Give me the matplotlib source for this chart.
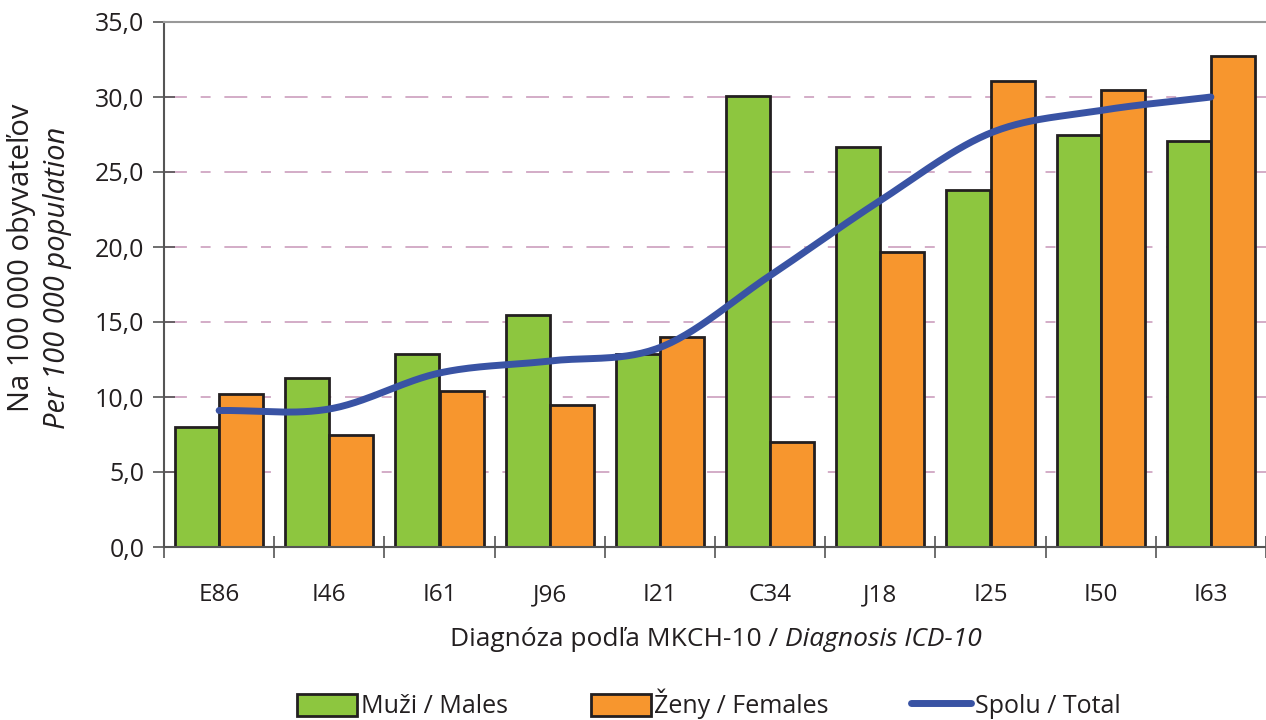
import numpy as np
import matplotlib.pyplot as plt
import matplotlib.ticker as ticker
from matplotlib.lines import Line2D
from matplotlib.patches import Patch
from matplotlib.offsetbox import TextArea, HPacker, AnchoredOffsetbox

plt.rcParams['font.family'] = ['Open Sans', 'DejaVu Sans']

categories = ["E86", "I46", "I61", "J96", "I21", "C34", "J18", "I25", "I50", "I63"]
males = [8.0, 11.3, 12.9, 15.5, 12.9, 30.1, 26.7, 23.8, 27.5, 27.1]
females = [10.2, 7.5, 10.4, 9.5, 14.0, 7.0, 19.7, 31.1, 30.5, 32.7]
total = [9.1, 9.2, 11.6, 12.4, 13.3, 18.1, 23.1, 27.6, 29.1, 30.0]
yticks = [0, 5, 10, 15, 20, 25, 30, 35]

GREEN = "#8dc63f"
ORANGE = "#f7962e"
BLUE = "#3953a4"
EDGE = "#231f20"
GRID = "#c896b8"
TXT = "#231f20"


# smooth line through the points (Catmull-Rom, like Excel's smoothed line)
def smooth(xs, ys, n=30):
    xs = np.asarray(xs, float)
    ys = np.asarray(ys, float)
    px = np.concatenate([[2 * xs[0] - xs[1]], xs, [2 * xs[-1] - xs[-2]]])
    py = np.concatenate([[2 * ys[0] - ys[1]], ys, [2 * ys[-1] - ys[-2]]])
    out_x, out_y = [], []
    t = np.linspace(0, 1, n, endpoint=False)
    for i in range(1, len(px) - 2):
        for p, out in ((px, out_x), (py, out_y)):
            p0, p1, p2, p3 = p[i - 1], p[i], p[i + 1], p[i + 2]
            out.extend(0.5 * (2 * p1 + (-p0 + p2) * t
                              + (2 * p0 - 5 * p1 + 4 * p2 - p3) * t ** 2
                              + (-p0 + 3 * p1 - 3 * p2 + p3) * t ** 3))
    out_x.append(xs[-1])
    out_y.append(ys[-1])
    return np.array(out_x), np.array(out_y)


fig = plt.figure(figsize=(12.66, 7.2), dpi=100)
ax = fig.add_axes([164 / 1266, 1 - 547 / 720, 1 - 164 / 1266, (547 - 22) / 720])

x = np.arange(len(categories))
w = 0.4

for yv in yticks[1:-1]:
    ax.axhline(yv, color=GRID, lw=1.1, linestyle=(0, (15, 9, 6.5, 9)), zorder=0)

ax.bar(x - w / 2, males, w, color=GREEN, edgecolor=EDGE, linewidth=2, zorder=2)
ax.bar(x + w / 2, females, w, color=ORANGE, edgecolor=EDGE, linewidth=2, zorder=2)

sx, sy = smooth(x, total)
ax.plot(sx, sy, color=BLUE, lw=5, solid_capstyle='round', zorder=3)

ax.set_ylim(0, 35)
ax.set_xlim(-0.5, -0.5 + (1266 - 164) / 110.6)
ax.set_yticks(yticks)
ax.yaxis.set_major_formatter(ticker.FuncFormatter(lambda v, p: f"{v:.1f}".replace(".", ",")))
ax.set_xticks(x)
ax.set_xticklabels(categories)
ax.set_xticks(np.arange(-0.5, 10, 1), minor=True)
ax.tick_params(axis='x', which='major', length=0, pad=26, labelsize=17.5, labelcolor=TXT)
ax.tick_params(axis='x', which='minor', direction='inout', length=16, width=1.2, color="#555555")
ax.tick_params(axis='y', direction='inout', length=16, width=1.2, color="#555555",
               pad=6, labelsize=18, labelcolor=TXT)

for s in ("left", "bottom"):
    ax.spines[s].set_color("#555555")
    ax.spines[s].set_linewidth(1.5)
ax.spines["top"].set_color("#999999")
ax.spines["top"].set_linewidth(1.5)
ax.spines["right"].set_visible(False)

# y axis title: two lines, the second in italics
fig.text(22 / 1266, 1 - 258 / 720, "Na 100 000 obyvateľov", rotation=90,
         ha='center', va='center', fontsize=21, color=TXT)
fig.text(58 / 1266, 1 - 278 / 720, "Per 100 000 population", rotation=90,
         ha='center', va='center', fontsize=21, style='italic', color=TXT)

# x axis title: normal + italic part
xl = HPacker(children=[
    TextArea("Diagnóza podľa MKCH-10 / ", textprops=dict(fontsize=19, color=TXT)),
    TextArea("Diagnosis ICD-10", textprops=dict(fontsize=19, style='italic', color=TXT)),
], align="baseline", pad=0, sep=0)
box = AnchoredOffsetbox(loc='center', child=xl, frameon=False, pad=0,
                        bbox_to_anchor=(716 / 1266, 1 - 640 / 720),
                        bbox_transform=fig.transFigure, borderpad=0)
fig.add_artist(box)

handles = [
    Patch(facecolor=GREEN, edgecolor=EDGE, linewidth=2),
    Patch(facecolor=ORANGE, edgecolor=EDGE, linewidth=2),
    Line2D([0], [0], color=BLUE, lw=5, solid_capstyle='round'),
]
labels = ["Muži / Males", "Ženy / Females", "Spolu / Total"]
fig.legend(handles, labels, loc='center', bbox_to_anchor=(709 / 1266, 1 - 704 / 720),
           ncol=3, frameon=False, fontsize=18, handlelength=2.4, handleheight=1.0,
           handletextpad=0.15, columnspacing=3.3, labelcolor=TXT)

fig.savefig("out.png", dpi=100)
